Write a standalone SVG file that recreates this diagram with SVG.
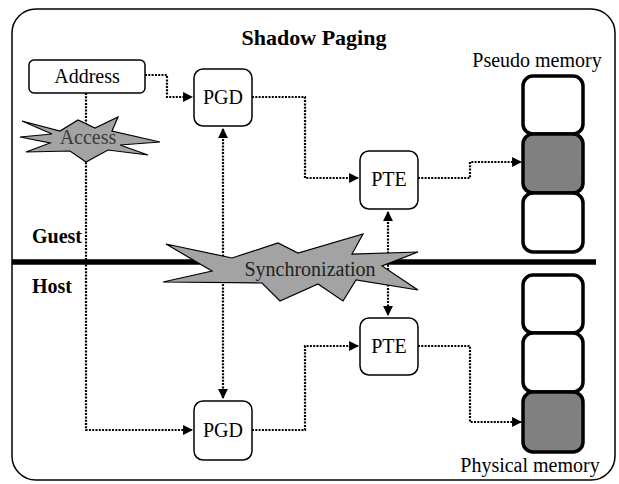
<svg xmlns="http://www.w3.org/2000/svg" width="619" height="484" viewBox="0 0 619 484" font-family="Liberation Serif, DejaVu Serif, serif">
<style>
text{font-size:20px;fill:#000}
.b{font-weight:bold}
.ttl{font-size:22px}
.box{fill:#fff;stroke:#000;stroke-width:1.5}
.mem{fill:#fff;stroke:#000;stroke-width:3.5}
.memd{fill:#808080;stroke:#000;stroke-width:3.5}
.c{fill:none;stroke:#000;stroke-width:2.2;stroke-dasharray:2 1.3}
.burst{fill:#a3a3a3;stroke:#000;stroke-width:1.2;stroke-linejoin:miter}
</style>
<defs>
<marker id="ah" viewBox="0 0 10 10" refX="9" refY="5" markerWidth="4.5" markerHeight="4.5" orient="auto-start-reverse" markerUnits="strokeWidth">
<path d="M0,0 L10,5 L0,10 z" fill="#000"/>
</marker>
</defs>
<rect x="12" y="9" width="603" height="471" rx="24" ry="24" fill="#fff" stroke="#000" stroke-width="1.5"/>
<text class="b ttl" x="314" y="45" text-anchor="middle">Shadow Paging</text>
<text x="537" y="67" text-anchor="middle">Pseudo memory</text>
<text x="530" y="472" text-anchor="middle">Physical memory</text>
<text class="b" x="32" y="243">Guest</text>
<text class="b" x="32" y="293">Host</text>
<line x1="12" y1="262" x2="596" y2="262" stroke="#000" stroke-width="5.5"/>
<g id="connectors">
<path class="c" d="M145,75 H167 V97 H192" marker-end="url(#ah)"/>
<path class="c" d="M252,97 H305 V178 H358" marker-end="url(#ah)"/>
<path class="c" d="M418,178 H470 V162 H521" marker-end="url(#ah)"/>
<path class="c" d="M86,93 V430 H192" marker-end="url(#ah)"/>
<path class="c" d="M223,129 V398" marker-start="url(#ah)" marker-end="url(#ah)"/>
<path class="c" d="M388,212 V315" marker-start="url(#ah)" marker-end="url(#ah)"/>
<path class="c" d="M252,430 H305 V346 H358" marker-end="url(#ah)"/>
<path class="c" d="M418,346 H470 V422 H521" marker-end="url(#ah)"/>
</g>
<g id="access">
<polygon class="burst" points="22,121 60,131 78,120 95,128 118,117 112,131 160,142 120,145 148,155 108,150 86,162 70,151 26,152 50,143 20,137 52,134"/>
<text x="88" y="144" text-anchor="middle" style="fill:#3a3a3a">Access</text>
</g>
<g id="synchronization">
<polygon class="burst" points="166,244 232,258 278,243 298,253 363,234 352,254 418,252 382,266 418,290 356,280 343,301 318,284 280,301 262,283 163,282 212,271"/>
<text x="310" y="276" text-anchor="middle" style="fill:#222">Synchronization</text>
</g>
<g id="address"><rect class="box" x="29" y="60" width="116" height="33" rx="5"/><text x="87" y="83" text-anchor="middle">Address</text></g>
<g id="pgd-guest"><rect class="box" x="194" y="69" width="58" height="57" rx="9"/><text x="223" y="104" text-anchor="middle">PGD</text></g>
<g id="pte-guest"><rect class="box" x="360" y="151" width="58" height="58" rx="9"/><text x="389" y="186" text-anchor="middle">PTE</text></g>
<g id="pte-host"><rect class="box" x="360" y="318" width="58" height="57" rx="9"/><text x="389" y="353" text-anchor="middle">PTE</text></g>
<g id="pgd-host"><rect class="box" x="194" y="401" width="58" height="59" rx="9"/><text x="223" y="437" text-anchor="middle">PGD</text></g>
<g id="pseudo-memory">
<rect class="mem" x="523" y="76" width="60" height="58" rx="10"/>
<rect class="memd" x="523" y="134" width="60" height="59" rx="10"/>
<rect class="mem" x="523" y="193" width="60" height="59" rx="10"/>
</g>
<g id="physical-memory">
<rect class="mem" x="523" y="275" width="60" height="58" rx="10"/>
<rect class="mem" x="523" y="333" width="60" height="59" rx="10"/>
<rect class="memd" x="523" y="392" width="60" height="60" rx="10"/>
</g>
</svg>
